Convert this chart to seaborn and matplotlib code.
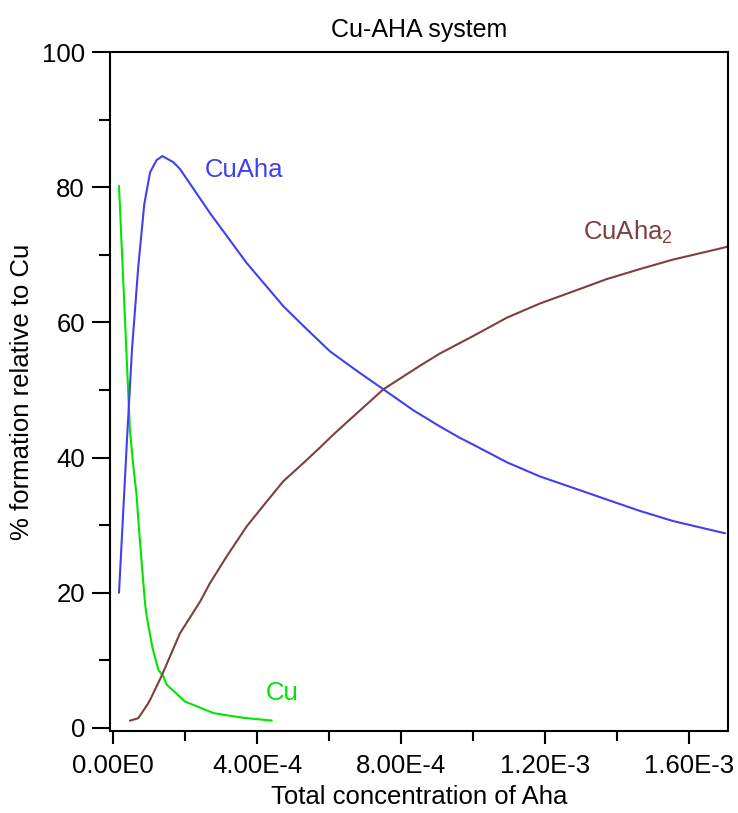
import numpy as np
import pandas as pd
import matplotlib
matplotlib.use("Agg")
import matplotlib.pyplot as plt
from matplotlib.ticker import FixedLocator, FixedFormatter
import seaborn as sns

# ---- data ----
cu_x = [1.67e-5, 4.7e-5, 5.5e-5, 6.58e-5, 7.03e-5, 7.97e-5, 8.89e-5, 9.36e-5,
        1.097e-4, 1.26e-4, 1.40e-4, 1.49e-4, 1.86e-4, 2.0e-4, 2.33e-4, 2.79e-4,
        3.25e-4, 3.71e-4, 4.41e-4]
cu_y = [80.2, 44.1, 39.5, 34.3, 30.8, 24.4, 18.5, 16.5,
        11.85, 8.6, 7.6, 6.4, 4.6, 3.9, 3.2, 2.2,
        1.8, 1.45, 1.1]

cuaha_x = [1.67e-5, 3.89e-5, 5.28e-5, 7.03e-5, 8.69e-5, 1.03e-4, 1.21e-4, 1.37e-4,
           1.675e-4, 1.86e-4, 2.0e-4, 2.69e-4, 3.71e-4, 4.73e-4, 5.38e-4, 6.03e-4,
           6.86e-4, 7.51e-4, 8.34e-4, 9.08e-4, 9.64e-4, 1.001e-3, 1.094e-3, 1.186e-3,
           1.279e-3, 1.371e-3, 1.464e-3, 1.556e-3, 1.700e-3]
cuaha_y = [20.0, 42.7, 56.0, 68.3, 77.5, 82.2, 84.0, 84.6,
           83.7, 82.7, 81.6, 76.2, 68.8, 62.4, 59.0, 55.7,
           52.5, 50.1, 47.0, 44.6, 42.9, 41.9, 39.3, 37.2,
           35.5, 33.8, 32.1, 30.6, 28.8]

cuaha2_x = [4.72e-5, 7.03e-5, 9.8e-5, 1.03e-4, 1.35e-4, 1.86e-4, 2.42e-4, 2.69e-4,
            3.16e-4, 3.71e-4, 4.27e-4, 4.73e-4, 5.29e-4, 5.75e-4, 6.12e-4, 6.49e-4,
            7.51e-4, 8.53e-4, 9.08e-4, 1.001e-3, 1.094e-3, 1.186e-3, 1.279e-3,
            1.371e-3, 1.464e-3, 1.556e-3, 1.684e-3, 1.706e-3]
cuaha2_y = [1.08, 1.44, 3.66, 4.15, 7.7, 14.0, 18.7, 21.4,
            25.4, 29.8, 33.5, 36.5, 39.2, 41.5, 43.4, 45.2,
            50.1, 53.6, 55.4, 58.0, 60.7, 62.8, 64.6,
            66.4, 67.9, 69.3, 70.9, 71.2]

series_names = ["Cu", "CuAha", "CuAha2"]
series_labels = ["Cu", "CuAha", r"CuAha$_\mathregular{2}$"]
x_ticks = [0.0, 4e-4, 8e-4, 1.2e-3, 1.6e-3]
x_ticklabels = ["0.00E0", "4.00E-4", "8.00E-4", "1.20E-3", "1.60E-3"]
x_minor = [2e-4, 6e-4, 1.0e-3, 1.4e-3]
y_ticks = [0, 20, 40, 60, 80, 100]
y_minor = [10, 30, 50, 70, 90]

colors = {"Cu": "#00E600", "CuAha": "#4040F0", "CuAha2": "#7F3F3F"}

df = pd.concat([
    pd.DataFrame({"x": cu_x, "y": cu_y, "species": "Cu"}),
    pd.DataFrame({"x": cuaha_x, "y": cuaha_y, "species": "CuAha"}),
    pd.DataFrame({"x": cuaha2_x, "y": cuaha2_y, "species": "CuAha2"}),
], ignore_index=True)

sns.set_style("white")
plt.rcParams["font.family"] = ["Liberation Sans", "DejaVu Sans"]
plt.rcParams["mathtext.default"] = "regular"
plt.rcParams["text.color"] = "black"
plt.rcParams["axes.labelcolor"] = "black"
plt.rcParams["xtick.color"] = "black"
plt.rcParams["ytick.color"] = "black"

FS = 18.5

fig = plt.figure(figsize=(7.38, 8.13), dpi=100)
ax = fig.add_axes([110 / 738, (813 - 731) / 813, 618 / 738, 679 / 813])

sns.lineplot(data=df, x="x", y="y", hue="species", palette=colors,
             estimator=None, sort=False, units="species", linewidth=1.5,
             legend=False, ax=ax)

ax.set_xlim(-8.3e-6, 1.708e-3)
ax.set_ylim(-0.45, 100)

ax.xaxis.set_major_locator(FixedLocator(x_ticks))
ax.xaxis.set_major_formatter(FixedFormatter(x_ticklabels))
ax.xaxis.set_minor_locator(FixedLocator(x_minor))
ax.yaxis.set_major_locator(FixedLocator(y_ticks))
ax.yaxis.set_minor_locator(FixedLocator(y_minor))

ax.tick_params(axis="y", which="major", direction="out", length=13, width=1.5,
               pad=5, labelsize=FS, left=True, colors="black")
ax.tick_params(axis="y", which="minor", direction="out", length=8, width=1.5,
               left=True, colors="black")
ax.tick_params(axis="x", which="major", direction="out", length=9.5, width=1.5,
               pad=7, labelsize=FS, bottom=True, colors="black")
ax.tick_params(axis="x", which="minor", direction="out", length=7, width=1.5,
               bottom=True, colors="black")

for sp in ax.spines.values():
    sp.set_visible(True)
    sp.set_linewidth(1.5)
    sp.set_color("black")

ax.set_xlabel("Total concentration of Aha", fontsize=FS, labelpad=5, color="black")
ax.set_ylabel("% formation relative to Cu", fontsize=FS, labelpad=6, color="black")
ax.set_title("Cu-AHA system", fontsize=18, pad=11, color="black")

label_pos = {"Cu": (4.25e-4, 5.1), "CuAha": (2.56e-4, 82.5), "CuAha2": (1.306e-3, 73.3)}
for name, lab in zip(series_names, series_labels):
    px, py = label_pos[name]
    ax.text(px, py, lab, color=colors[name], fontsize=FS, ha="left", va="center")

fig.savefig("out.png", dpi=100)
